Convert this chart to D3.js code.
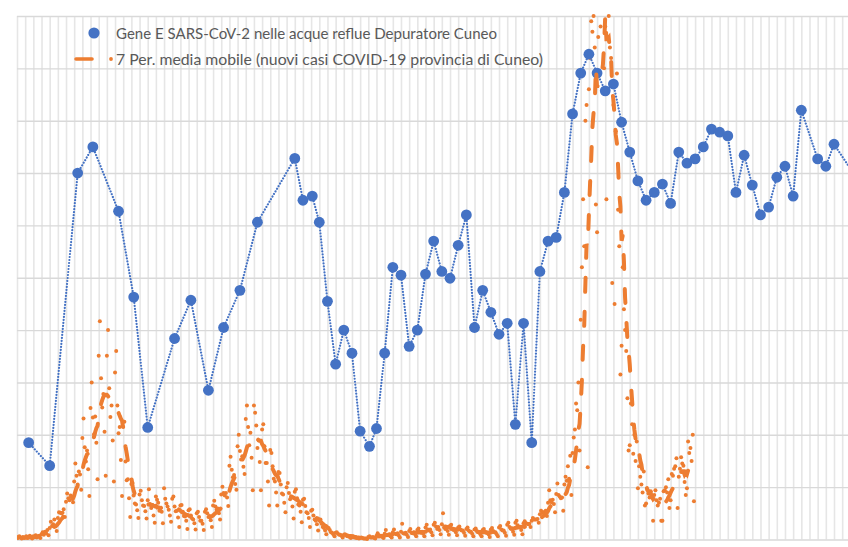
<!DOCTYPE html>
<html>
<head>
<meta charset="utf-8">
<script src="https://cdn.jsdelivr.net/npm/d3@7"></script>
<style>
  html, body { margin: 0; padding: 0; background: #fff; }
  svg { display: block; }
</style>
</head>
<body>
<svg id="chart" width="848" height="547"></svg>
<script>
// daily new cases (provincia di Cuneo), one row per week, in tenths of a grid step
let casesDaily = [
  0.5,0.3,0.6,0.4,0.2,0.5,0.3,
  0.4,0.6,0.3,0.5,0.7,0.4,0.2,
  0.6,0.5,0.8,0.4,0.6,0.7,0.3,
  1.0,1.4,0.9,1.5,1.2,1.8,0.8,
  2.2,3.4,2.6,2.9,3.8,2.5,1.6,
  4.1,5.2,5.1,5.0,5.1,5.8,4.3,
  7.2,8.8,7.9,7.5,8.4,8.0,7.1,
  11.1,14.5,12.2,10.5,13.0,12.4,9.5,
  19.4,23.1,17.6,14.9,17.0,13.4,8.3,
  25.1,30.0,23.3,20.1,23.5,18.5,11.5,
  35.1,41.7,30.8,25.2,27.8,20.6,12.2,
  35.1,40.0,28.9,23.4,25.6,18.9,11.1,
  31.9,36.0,25.6,20.3,21.5,15.2,8.3,
  21.5,22.5,14.9,11.3,11.5,7.9,4.3,
  10.6,10.8,8.4,6.9,6.7,5.6,4.1,
  8.6,9.3,7.5,6.5,6.4,5.4,4.0,
  7.5,9.6,6.8,6.0,6.6,4.6,3.2,
  8.2,7.6,7.0,5.5,6.0,5.3,3.1,
  9.8,7.8,6.9,6.3,5.7,4.6,3.4,
  7.8,8.2,6.3,5.4,5.5,4.2,2.4,
  6.5,6.6,5.3,4.5,4.4,3.6,2.0,
  5.6,5.8,4.6,4.0,3.8,3.1,1.9,
  5.0,5.3,4.3,3.6,3.6,3.0,1.8,
  5.3,5.8,5.0,4.3,4.5,3.7,2.4,
  6.5,7.4,6.3,5.7,5.9,5.0,3.8,
  8.6,10.1,8.9,8.4,8.9,8.0,6.4,
  14.1,15.8,13.3,11.9,12.3,10.6,9.5,
  17.8,20.0,16.9,15.3,15.9,13.9,12.5,
  23.0,25.6,21.5,18.0,20.4,15.6,9.4,
  25.6,24.2,21.8,17.5,18.9,14.8,9.4,
  21.0,22.0,17.8,14.6,14.6,11.1,6.5,
  17.1,16.5,14.0,11.6,11.1,9.0,6.5,
  12.9,12.7,10.5,8.8,8.6,7.0,5.2,
  10.0,10.8,8.9,7.7,8.0,6.3,4.0,
  9.1,9.6,7.9,6.7,6.5,5.3,3.3,
  7.6,7.8,6.4,5.2,5.0,4.1,2.4,
  5.5,5.7,4.6,3.8,3.6,2.9,1.7,
  3.7,3.8,3.0,2.4,2.2,1.7,1.0,
  2.2,2.2,1.8,1.4,1.3,1.0,0.6,
  1.3,1.4,1.1,0.9,0.9,0.7,0.4,
  0.9,1.0,0.8,0.6,0.6,0.5,0.3,
  0.5,0.6,0.4,0.4,0.3,0.3,0.2,
  0.3,0.4,0.3,0.2,0.2,0.2,0.1,
  0.5,0.6,0.4,0.4,0.5,0.3,0.2,
  0.7,1.2,0.8,0.6,0.7,0.5,0.3,
  1.1,1.8,0.9,0.8,1.0,0.6,0.4,
  1.4,1.9,1.1,1.0,1.2,0.8,0.4,
  1.5,3.0,1.2,1.1,1.3,0.9,0.5,
  1.6,2.0,1.3,1.2,1.4,1.0,0.6,
  1.8,2.1,1.5,1.3,1.5,1.1,0.6,
  2.3,2.8,1.9,1.7,1.9,1.4,0.8,
  2.8,3.2,2.5,2.0,2.4,1.8,1.0,
  2.9,5.0,2.3,2.0,2.1,1.6,0.9,
  2.6,2.8,2.1,1.8,1.9,1.4,0.8,
  2.3,2.5,1.9,1.7,1.7,1.3,0.7,
  2.0,2.3,1.7,1.5,1.5,1.1,0.6,
  1.9,2.1,1.6,1.4,1.4,1.0,0.6,
  1.8,2.0,1.5,1.3,1.3,1.0,0.5,
  1.9,2.2,1.6,1.4,1.4,1.0,0.6,
  2.3,2.6,1.9,1.7,1.7,1.3,0.7,
  2.8,3.2,2.4,2.1,2.1,1.5,0.9,
  3.2,3.6,2.7,2.4,2.4,1.8,1.0,
  3.1,3.5,3.1,3.0,2.9,3.0,2.4,
  3.6,4.1,3.8,3.8,3.8,3.9,3.2,
  4.8,5.5,5.1,5.2,5.2,5.5,4.5,
  7.0,9.4,7.5,7.1,7.6,6.8,5.2,
  8.7,10.7,8.5,8.2,7.9,8.0,5.5,
  10.5,12.0,11.2,14.0,11.6,16.0,8.5,
  16.5,19.5,21.0,26.0,24.7,30.0,17.0,
  42,52,65,56,80,83,13.8,
  86,92,99,97,100,94,64,
  58.7,96,104,98,110,104,90,
  98,65,104,100,94,92,49,
  83,45,78,89,63,56,31.5,
  37,52,44,40,36,27,17,
  18,26,22,16.4,20,15,18.7,
  9.8,14,12,10.5,9,13,6.5,
  6.9,9.5,8.8,8.0,9.2,8.0,3.6,
  8.5,9.4,7.5,6.5,7.0,7.8,3.6,
  3.6,9.2,9.4,10.0,9.0,11.5,6.0,
  7.5,12.5,12.2,13.5,14.0,15.5,6.0,
  12.0,13.5,15.7,14.5,14.1,11.0,8.5,
  9.8,18.7,16.5,17.5,15.0,20.0,7.3
]

// wastewater samples (day from start, value)
let geneDays = [10,28,52,65,87,100,112,135,149,164,177,191,206,238,245,253,259,266,273,280,
  287,294,302,308,315,322,329,336,343,350,357,364,371,378,385,392,399,406,413,420,
  427,434,441,448,455,462,469,476,483,490,497,504,511,518,525,532,539,546,553,560,
  567,574,581,588,595,602,609,616,623,630,637,644,651,658,665,672,686,693,700,721]
let geneValues = [18.5,14.1,70.0,75.0,62.7,46.3,21.4,38.4,45.7,28.5,40.5,47.6,60.6,72.8,64.8,65.6,60.6,45.5,33.5,40.0,
  35.6,20.7,17.8,21.2,35.6,52.0,50.5,36.9,40.0,50.7,57.0,51.2,49.9,56.2,62.0,40.5,47.6,43.4,39.2,41.3,
  22.0,41.3,18.5,51.2,57.0,57.7,66.3,81.3,89.1,92.7,89.1,85.7,87.0,79.7,74.0,68.5,64.8,66.3,67.9,64.2,
  74.0,71.9,72.7,75.0,78.4,77.8,77.1,66.3,73.4,67.7,62.0,63.5,69.2,71.3,65.6,82.0,72.7,71.3,75.5,68.5]

let legendLabels = [
  'Gene E SARS-CoV-2 nelle acque reflue Depuratore Cuneo',
  '7 Per. media mobile (nuovi casi COVID-19 provincia di Cuneo)'
]

const blue = '#4472C4'
const orange = '#ED7D31'

let svg = d3.select('#chart')

let x = d3.scaleLinear().domain([0, 730]).range([17, 17 + 730 * 8.17 / 7])
let y = d3.scaleLinear().domain([0, 100]).range([539.5, 16])

// grid
svg.append('g')
   .attr('transform', 'translate(0,16)')
   .call(d3.axisBottom(x).tickValues(d3.range(0, 731, 7)).tickSize(523.5).tickFormat(''))
   .call(g => g.select('.domain').remove())
   .call(g => g.selectAll('line').attr('stroke', '#e6e6e6').attr('stroke-width', 1.6))

svg.append('g')
   .attr('transform', 'translate(17,0)')
   .call(d3.axisRight(y).tickValues(d3.range(0, 101, 10)).tickSize(860).tickFormat(''))
   .call(g => g.select('.domain').remove())
   .call(g => g.selectAll('line').attr('stroke', '#d9d9d9').attr('stroke-width', 1.4))

svg.append('clipPath').attr('id', 'plot')
   .append('rect').attr('x', 17).attr('y', 14).attr('width', 860).attr('height', 528)

let plot = svg.append('g').attr('clip-path', 'url(#plot)')

// daily cases
plot.append('g')
    .selectAll('circle')
    .data(casesDaily.map((v, i) => [i, v]).filter(d => d[1] <= 100))
    .enter()
    .append('circle')
    .attr('cx', d => x(d[0]))
    .attr('cy', d => y(d[1]))
    .attr('r', 2)
    .attr('fill', orange)

// wastewater series
let gene = geneDays.map((d, i) => [d, geneValues[i]])

plot.append('path')
    .datum(gene)
    .attr('d', d3.line().x(d => x(d[0])).y(d => y(d[1])))
    .attr('fill', 'none')
    .attr('stroke', blue)
    .attr('stroke-width', 2.2)
    .attr('stroke-linecap', 'round')
    .attr('stroke-dasharray', '0.01,3')

plot.append('g')
    .selectAll('circle')
    .data(gene)
    .enter()
    .append('circle')
    .attr('cx', d => x(d[0]))
    .attr('cy', d => y(d[1]))
    .attr('r', 5.4)
    .attr('fill', blue)

// 7 period moving average (trailing, like the Excel trendline)
let movingAvg = []
for (let i = 6; i < casesDaily.length; i++) {
    movingAvg.push([i, d3.mean(casesDaily.slice(i - 6, i + 1))])
}

plot.append('path')
    .datum(movingAvg)
    .attr('d', d3.line().x(d => x(d[0])).y(d => y(d[1])))
    .attr('fill', 'none')
    .attr('stroke', orange)
    .attr('stroke-width', 4)
    .attr('stroke-linecap', 'round')
    .attr('stroke-dasharray', '14,20')

// legend
let legend = svg.append('g')
    .style('font-family', 'Lato, "Open Sans", sans-serif')
    .style('font-size', '15px')
    .attr('fill', '#595959')

legend.append('circle').attr('cx', 94).attr('cy', 33).attr('r', 5.6).attr('fill', blue)
legend.append('text').attr('x', 116).attr('y', 39)
      .attr('textLength', 381).attr('lengthAdjust', 'spacingAndGlyphs')
      .text(legendLabels[0])

legend.append('line').attr('x1', 76).attr('x2', 92).attr('y1', 59).attr('y2', 59)
      .attr('stroke', orange).attr('stroke-width', 3.6).attr('stroke-linecap', 'round')
legend.append('circle').attr('cx', 111).attr('cy', 59).attr('r', 1.9).attr('fill', orange)
legend.append('text').attr('x', 116).attr('y', 65)
      .attr('textLength', 427).attr('lengthAdjust', 'spacingAndGlyphs')
      .text(legendLabels[1])
</script>
</body>
</html>
